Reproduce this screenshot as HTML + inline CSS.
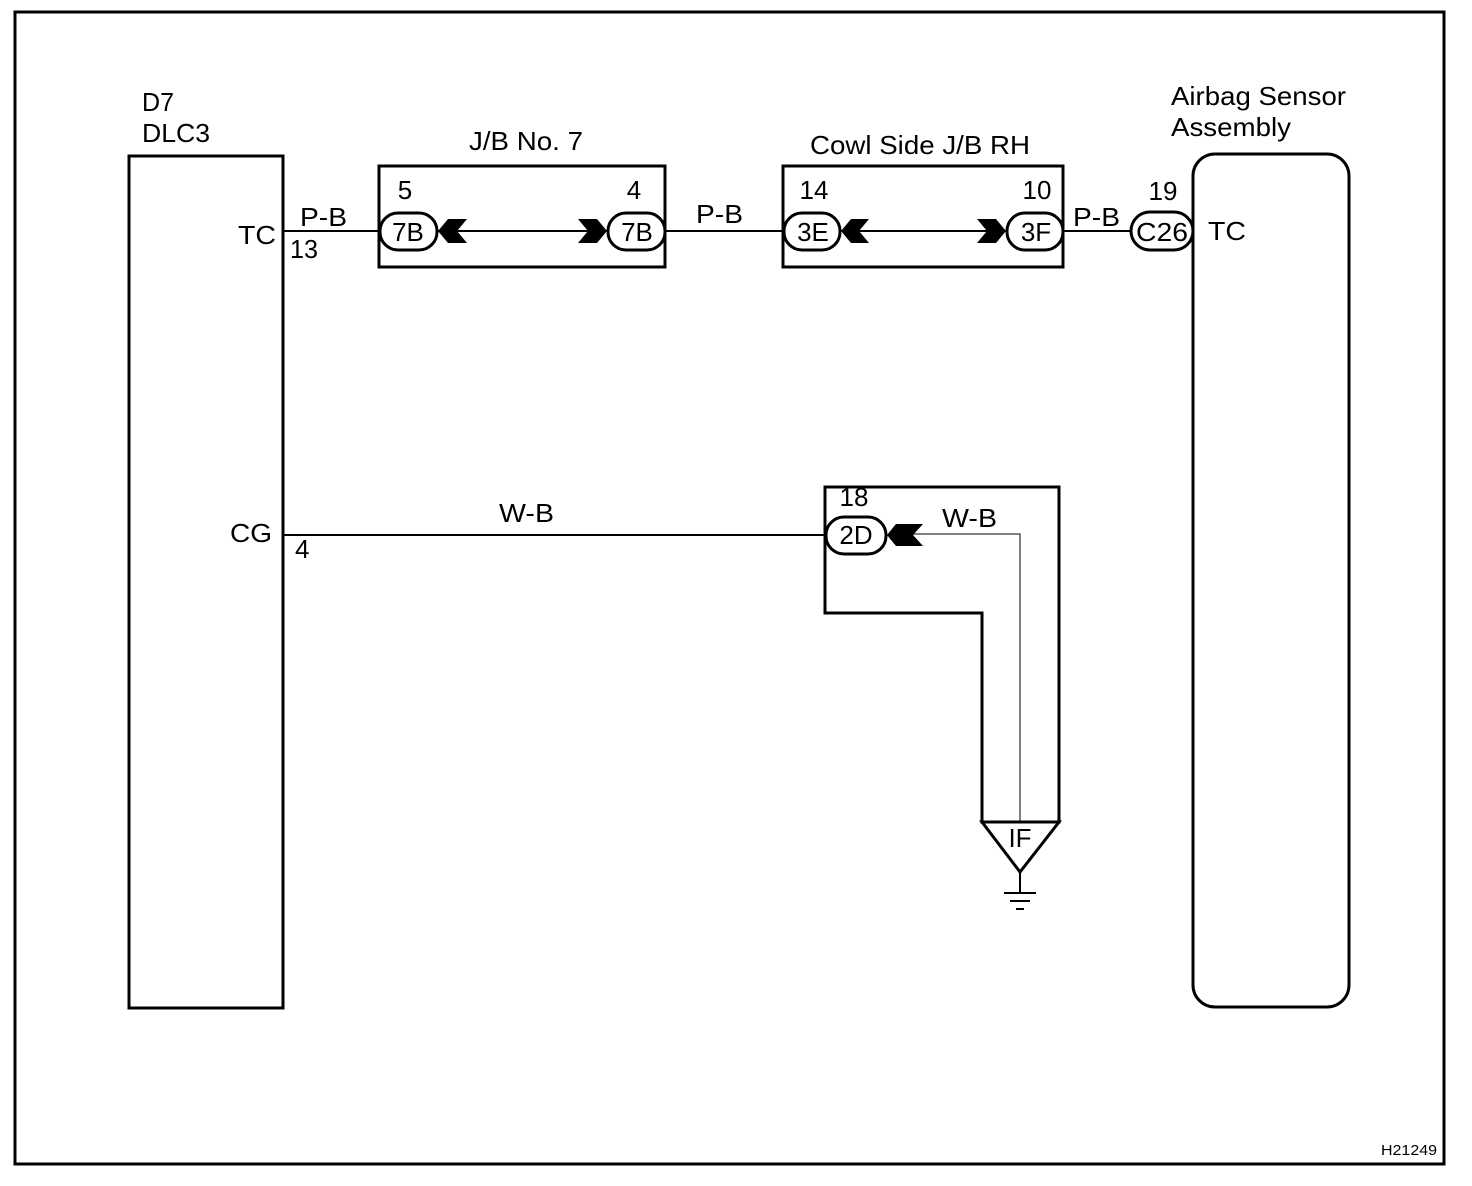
<!DOCTYPE html>
<html><head><meta charset="utf-8"><style>
html,body{margin:0;padding:0;background:#fff;}
svg{display:block;}
text{font-family:"Liberation Sans",Arial,sans-serif;fill:#000;}
</style></head><body>
<svg width="1472" height="1186" viewBox="0 0 1472 1186" xmlns="http://www.w3.org/2000/svg">
<rect x="0" y="0" width="1472" height="1186" fill="#fff"/>
<rect x="15" y="12" width="1429" height="1152" fill="none" stroke="#000" stroke-width="3"/>

<!-- DLC3 -->
<rect x="129" y="156" width="154" height="852" fill="none" stroke="#000" stroke-width="3"/>
<text x="142" y="111" font-size="26" textLength="32" lengthAdjust="spacingAndGlyphs">D7</text>
<text x="142" y="142" font-size="26" textLength="68" lengthAdjust="spacingAndGlyphs">DLC3</text>
<text x="238" y="244" font-size="26" textLength="38" lengthAdjust="spacingAndGlyphs">TC</text>
<text x="290" y="258" font-size="26" textLength="28" lengthAdjust="spacingAndGlyphs">13</text>
<text x="230" y="542" font-size="26" textLength="42" lengthAdjust="spacingAndGlyphs">CG</text>
<text x="295" y="558" font-size="26">4</text>

<!-- Airbag -->
<rect x="1193" y="154" width="156" height="853" rx="22" ry="22" fill="none" stroke="#000" stroke-width="3"/>
<text x="1171" y="105" font-size="26" textLength="175" lengthAdjust="spacingAndGlyphs">Airbag Sensor</text>
<text x="1171" y="136" font-size="26" textLength="120" lengthAdjust="spacingAndGlyphs">Assembly</text>
<text x="1208" y="240" font-size="26" textLength="38" lengthAdjust="spacingAndGlyphs">TC</text>

<!-- JB boxes -->
<rect x="379" y="166" width="286" height="101" fill="none" stroke="#000" stroke-width="3"/>
<text x="469" y="150" font-size="26" textLength="114" lengthAdjust="spacingAndGlyphs">J/B No. 7</text>
<rect x="783" y="166" width="280" height="101" fill="none" stroke="#000" stroke-width="3"/>
<text x="810" y="154" font-size="26" textLength="220" lengthAdjust="spacingAndGlyphs">Cowl Side J/B RH</text>

<!-- wires -->
<g stroke="#000" stroke-width="2" fill="none">
<line x1="283" y1="231" x2="379" y2="231"/>
<line x1="437" y1="231" x2="608" y2="231"/>
<line x1="665" y1="231" x2="783" y2="231"/>
<line x1="840" y1="231" x2="1007" y2="231"/>
<line x1="1063" y1="231" x2="1130" y2="231"/>
<line x1="283" y1="535" x2="825" y2="535"/>
</g>
<text x="300" y="226" font-size="26" textLength="47" lengthAdjust="spacingAndGlyphs">P-B</text>
<text x="696" y="223" font-size="26" textLength="47" lengthAdjust="spacingAndGlyphs">P-B</text>
<text x="1073" y="226" font-size="26" textLength="47" lengthAdjust="spacingAndGlyphs">P-B</text>
<text x="499" y="522" font-size="26" textLength="55" lengthAdjust="spacingAndGlyphs">W-B</text>

<!-- connectors -->
<g stroke="#000" stroke-width="3" fill="#fff">
<rect x="380" y="213" width="57" height="37" rx="18" ry="18"/>
<rect x="608" y="213" width="57" height="37" rx="18" ry="18"/>
<rect x="784" y="213" width="56" height="37" rx="18" ry="18"/>
<rect x="1007" y="213" width="56" height="37" rx="18" ry="18"/>
<rect x="1131" y="212" width="62" height="38" rx="19" ry="19"/>
<rect x="826" y="517" width="60" height="37" rx="18" ry="18"/>
</g>
<g font-size="26" text-anchor="middle">
<text x="408" y="241">7B</text>
<text x="637" y="241">7B</text>
<text x="813" y="241">3E</text>
<text x="1036" y="241">3F</text>
<text x="1162" y="241" textLength="52" lengthAdjust="spacingAndGlyphs">C26</text>
<text x="856" y="544">2D</text>
<text x="405" y="199">5</text>
<text x="634" y="199">4</text>
<text x="814" y="199">14</text>
<text x="1037" y="199">10</text>
<text x="1163" y="200">19</text>
<text x="854" y="506">18</text>
</g>

<!-- chevrons -->
<g fill="#000">
<polygon points="438,231 448,219 467,219 457,231 467,243 448,243"/>
<polygon points="607,231 597,219 578,219 588,231 578,243 597,243"/>
<polygon points="841,231 851,219 869,219 859,231 869,243 851,243"/>
<polygon points="1006,231 996,219 977,219 987,231 977,243 996,243"/>
<polygon points="887,535 896,524 923,524 913,535 923,546 896,546"/>
</g>

<!-- ground L box -->
<polygon points="825,487 1059,487 1059,822 982,822 982,613 825,613" fill="none" stroke="#000" stroke-width="3"/>
<polyline points="913,534 1020,534 1020,822" fill="none" stroke="#000" stroke-width="1"/>
<text x="942" y="527" font-size="26" textLength="55" lengthAdjust="spacingAndGlyphs">W-B</text>
<polygon points="982,822 1059,822 1020,872" fill="#fff" stroke="#000" stroke-width="3"/>
<text x="1020" y="847" font-size="26" text-anchor="middle">IF</text>
<g stroke="#000" stroke-width="2">
<line x1="1020" y1="872" x2="1020" y2="893"/>
<line x1="1004" y1="893" x2="1036" y2="893"/>
<line x1="1010" y1="901" x2="1030" y2="901"/>
<line x1="1016" y1="909" x2="1024" y2="909"/>
</g>

<text x="1437" y="1155" font-size="15" text-anchor="end" textLength="56" lengthAdjust="spacingAndGlyphs">H21249</text>
</svg>
</body></html>
